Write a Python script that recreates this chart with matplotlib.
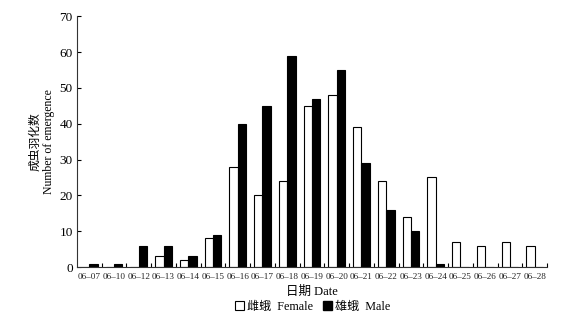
import numpy as np
import matplotlib.pyplot as plt
import matplotlib.patches as mpatches

dates = ['06–07', '06–10', '06–12', '06–13', '06–14', '06–15', '06–16', '06–17',
         '06–18', '06–19', '06–20', '06–21', '06–22', '06–23', '06–24', '06–25',
         '06–26', '06–27', '06–28']
female = [0, 0, 0, 3, 2, 8, 28, 20, 24, 45, 48, 39, 24, 14, 25, 7, 6, 7, 6]
male = [1, 1, 6, 6, 3, 9, 40, 45, 59, 47, 55, 29, 16, 10, 1, 0, 0, 0, 0]

fonts = ['Liberation Serif', 'Noto Sans CJK SC', 'DejaVu Sans']
plt.rcParams['font.family'] = fonts

fig = plt.figure(figsize=(5.87, 3.23), dpi=100)
ax = fig.add_axes([0.131, 0.173, 0.801, 0.777])

x = np.arange(len(dates))
w = 0.34
ax.bar(x - w / 2, female, w, color='white', edgecolor='black', linewidth=0.8)
ax.bar(x + w / 2, male, w, color='black', edgecolor='black', linewidth=0.8)

ax.set_xlim(-0.5, len(dates) - 0.5)
ax.set_ylim(0, 70)
ax.set_yticks(range(0, 71, 10))
ax.set_xticks(x)
ax.set_xticklabels(dates, fontsize=6.6, color='#222222')
ax.set_xticks(np.arange(len(dates)) + 0.5, minor=True)
ax.tick_params(axis='x', which='major', length=0, pad=4)
ax.tick_params(axis='x', which='minor', direction='in', length=3, width=0.8)
ax.tick_params(axis='y', direction='in', length=3, width=0.8, labelsize=9.5, pad=3)
for s in ['top', 'right']:
    ax.spines[s].set_visible(False)
for s in ['left', 'bottom']:
    ax.spines[s].set_linewidth(0.8)
    ax.spines[s].set_color('#333333')

ax.set_xlabel('日期 Date', fontsize=9, labelpad=4)
ax.set_ylabel('成虫羽化数\nNumber of emergence', fontsize=8.5, labelpad=3, linespacing=1.2)

handles = [mpatches.Patch(facecolor='white', edgecolor='black', linewidth=0.8, label='雌蛾  Female'),
           mpatches.Patch(facecolor='black', edgecolor='black', label='雄蛾  Male')]
fig.legend(handles=handles, loc='center', bbox_to_anchor=(0.533, 0.05), ncol=2, frameon=False,
           fontsize=8.7, handlelength=0.7, handleheight=0.7, handletextpad=0.3, columnspacing=0.8)

fig.savefig('out.png', dpi=100)
